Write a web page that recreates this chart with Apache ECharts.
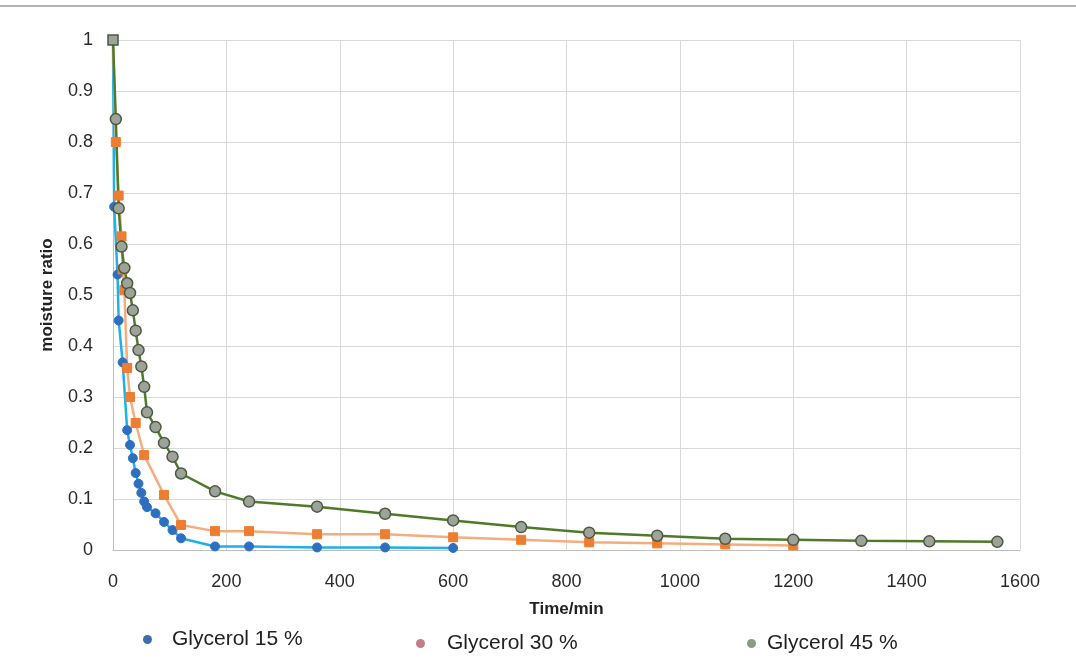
<!DOCTYPE html>
<html>
<head>
<meta charset="utf-8">
<script src="https://cdn.jsdelivr.net/npm/echarts@6/dist/echarts.min.js"></script>
<style>
    html,body{margin:0;padding:0;background:#fff;}
    #chart{width:1076px;height:657px;}
</style>
</head>
<body>
<div id="chart"></div>
<script>
// 数据
var time15 = [0, 2, 8, 10, 17, 25, 30, 35, 40, 45, 50, 55, 60, 75, 90, 105, 120, 180, 240, 360, 480, 600];
var mr15 = [1, 0.673, 0.54, 0.45, 0.368, 0.235, 0.206, 0.18, 0.151, 0.13, 0.112, 0.095, 0.084, 0.072, 0.055, 0.039, 0.023, 0.007, 0.007, 0.005, 0.005, 0.004];

var time30 = [0, 5, 10, 15, 17, 20, 25, 30, 40, 55, 90, 120, 180, 240, 360, 480, 600, 720, 840, 960, 1080, 1200];
var mr30 = [1, 0.80, 0.695, 0.615, 0.55, 0.51, 0.357, 0.30, 0.249, 0.186, 0.108, 0.049, 0.037, 0.037, 0.031, 0.031, 0.025, 0.02, 0.015, 0.013, 0.011, 0.009];

var time45 = [0, 5, 10, 15, 20, 25, 30, 35, 40, 45, 50, 55, 60, 75, 90, 105, 120, 180, 240, 360, 480, 600, 720, 840, 960, 1080, 1200, 1320, 1440, 1560];
var mr45 = [1, 0.845, 0.67, 0.595, 0.553, 0.523, 0.504, 0.47, 0.43, 0.392, 0.36, 0.32, 0.27, 0.241, 0.21, 0.183, 0.15, 0.115, 0.095, 0.085, 0.071, 0.058, 0.045, 0.034, 0.028, 0.022, 0.02, 0.018, 0.017, 0.016];

var seriesNames = ['Glycerol 15 %', 'Glycerol 30 %', 'Glycerol 45 %'];

function pairs(t, v){
    return t.map(function(x, i){ return [x, v[i]]; });
}

var myChart = echarts.init(document.getElementById('chart'));
var fontFam = '"Liberation Sans", Arial, sans-serif';

var d45 = pairs(time45, mr45);
d45[0] = {value: d45[0], symbol: 'rect', symbolSize: 10};

function legendBox(left, top, pad, name, color){
    return {
        left: left, top: top, icon: 'circle', itemWidth: 9, itemHeight: 9,
        textStyle: {fontSize: 21, color: '#222', fontFamily: fontFam, padding: [0, 0, 0, pad]},
        data: [{name: name, itemStyle: {color: color, borderWidth: 0}}]
    };
}

myChart.setOption({
    animation: false,
    textStyle: {fontFamily: fontFam},
    grid: {left: 113, right: 56, top: 40, bottom: 107},
    graphic: [{
        type: 'line',
        shape: {x1: 0, y1: 6, x2: 1076, y2: 6},
        style: {stroke: '#9a9a9a', lineWidth: 1.5}
    }],
    legend: [
        legendBox(138, 624, 15, seriesNames[0], '#3d6ea8'),
        legendBox(411, 628, 17, seriesNames[1], '#c27d84'),
        legendBox(742, 628, 6, seriesNames[2], '#8b9a80')
    ],
    xAxis: {
        type: 'value',
        min: 0, max: 1600, interval: 200,
        name: 'Time/min',
        nameLocation: 'middle',
        nameGap: 51,
        nameTextStyle: {fontSize: 17, fontWeight: 'bold', color: '#222'},
        axisLine: {lineStyle: {color: '#bfbfbf'}},
        axisTick: {show: false},
        axisLabel: {fontSize: 18, color: '#2a2a2a', margin: 23, formatter: function(v){ return String(v); }},
        splitLine: {show: true, lineStyle: {color: '#d9d9d9'}}
    },
    yAxis: {
        type: 'value',
        min: 0, max: 1, interval: 0.1,
        name: 'moisture ratio',
        nameLocation: 'middle',
        nameGap: 57,
        nameTextStyle: {fontSize: 17, fontWeight: 'bold', color: '#222'},
        axisLine: {show: true, lineStyle: {color: '#bfbfbf'}},
        axisTick: {show: false},
        axisLabel: {fontSize: 18, color: '#2a2a2a', margin: 20},
        splitLine: {show: true, lineStyle: {color: '#d9d9d9'}}
    },
    series: [
        {
            name: seriesNames[0],
            type: 'line',
            data: pairs(time15, mr15),
            symbol: 'circle',
            symbolSize: 9,
            lineStyle: {color: '#1fb0e8', width: 2.5},
            itemStyle: {color: '#2e6fc0', borderColor: '#2e6fc0'}
        },
        {
            name: seriesNames[1],
            type: 'line',
            data: pairs(time30, mr30),
            symbol: 'rect',
            symbolSize: 9,
            lineStyle: {color: '#f4ad7f', width: 2.5},
            itemStyle: {color: '#ed7d31', borderColor: '#ed7d31'}
        },
        {
            name: seriesNames[2],
            type: 'line',
            data: d45,
            symbol: 'circle',
            symbolSize: 11,
            lineStyle: {color: '#4f7a2a', width: 2.5},
            itemStyle: {color: '#9ea39a', borderColor: '#4a5a40', borderWidth: 1.5}
        }
    ]
});
</script>
</body>
</html>
